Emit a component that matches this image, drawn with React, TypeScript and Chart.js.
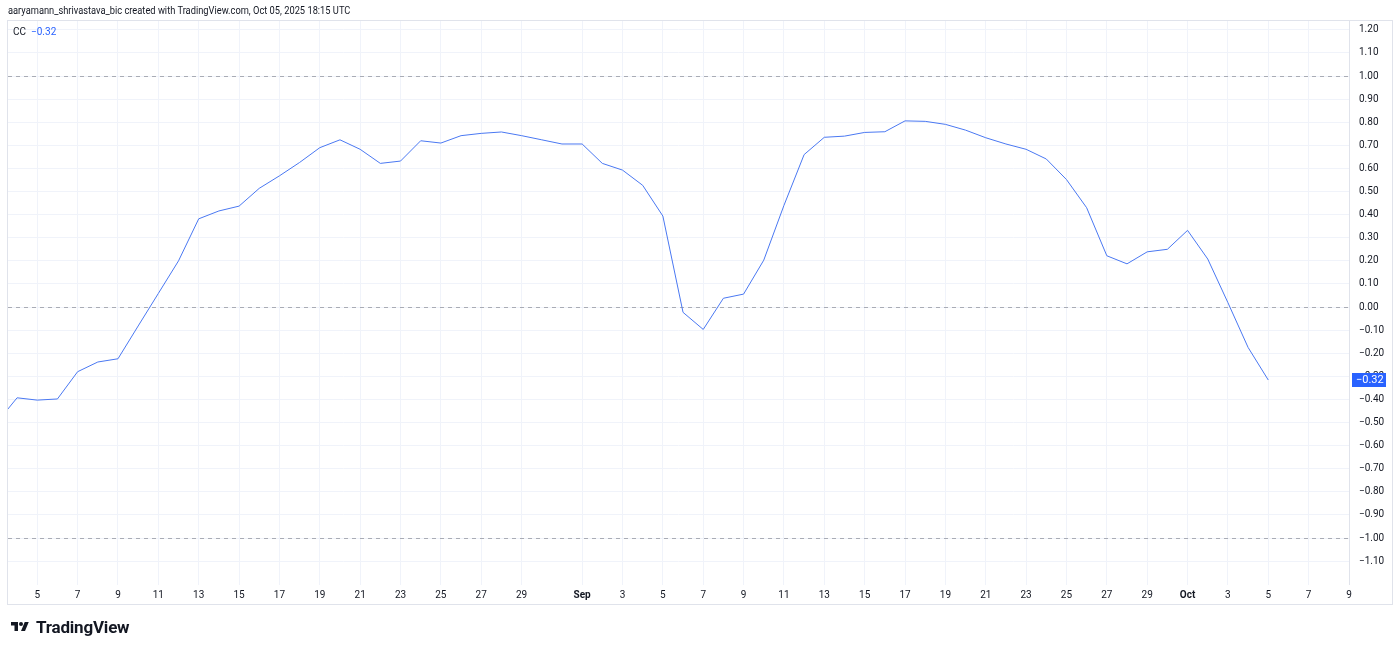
import React, { useEffect, useRef } from "react";
import { Chart, registerables } from "chart.js";

Chart.register(...registerables);

// ---- data ----
const dates: string[] = [
  "2025-08-03", "2025-08-04", "2025-08-05", "2025-08-06", "2025-08-07", "2025-08-08", "2025-08-09", "2025-08-10",
  "2025-08-11", "2025-08-12", "2025-08-13", "2025-08-14", "2025-08-15", "2025-08-16", "2025-08-17", "2025-08-18",
  "2025-08-19", "2025-08-20", "2025-08-21", "2025-08-22", "2025-08-23", "2025-08-24", "2025-08-25", "2025-08-26",
  "2025-08-27", "2025-08-28", "2025-08-29", "2025-08-30", "2025-08-31",
  "2025-09-01", "2025-09-02", "2025-09-03", "2025-09-04", "2025-09-05", "2025-09-06", "2025-09-07", "2025-09-08",
  "2025-09-09", "2025-09-10", "2025-09-11", "2025-09-12", "2025-09-13", "2025-09-14", "2025-09-15", "2025-09-16",
  "2025-09-17", "2025-09-18", "2025-09-19", "2025-09-20", "2025-09-21", "2025-09-22", "2025-09-23", "2025-09-24",
  "2025-09-25", "2025-09-26", "2025-09-27", "2025-09-28", "2025-09-29", "2025-09-30",
  "2025-10-01", "2025-10-02", "2025-10-03", "2025-10-04", "2025-10-05",
];

const ccValues: number[] = [
  -0.5, -0.393, -0.403, -0.398, -0.28, -0.238, -0.224, -0.082,
  0.059, 0.2, 0.382, 0.416, 0.437, 0.514, 0.568, 0.626,
  0.69, 0.724, 0.683, 0.622, 0.632, 0.72, 0.71, 0.742,
  0.752, 0.758, 0.742, 0.724, 0.706,
  0.706, 0.622, 0.593, 0.527, 0.394, -0.023, -0.097, 0.038,
  0.056, 0.203, 0.44, 0.66, 0.735, 0.74, 0.756, 0.759,
  0.806, 0.804, 0.791, 0.766, 0.733, 0.706, 0.683, 0.641,
  0.552, 0.43, 0.222, 0.187, 0.239, 0.25,
  0.332, 0.208, 0.019, -0.175, -0.316,
];

const xTickDates: string[] = [
  "2025-08-05", "2025-08-07", "2025-08-09", "2025-08-11", "2025-08-13", "2025-08-15", "2025-08-17",
  "2025-08-19", "2025-08-21", "2025-08-23", "2025-08-25", "2025-08-27", "2025-08-29",
  "2025-09-01", "2025-09-03", "2025-09-05", "2025-09-07", "2025-09-09", "2025-09-11", "2025-09-13",
  "2025-09-15", "2025-09-17", "2025-09-19", "2025-09-21", "2025-09-23", "2025-09-25", "2025-09-27",
  "2025-09-29", "2025-10-01", "2025-10-03", "2025-10-05", "2025-10-07", "2025-10-09",
];

const yTicks: number[] = [
  -1.1, -1.0, -0.9, -0.8, -0.7, -0.6, -0.5, -0.4, -0.3, -0.2, -0.1, 0,
  0.1, 0.2, 0.3, 0.4, 0.5, 0.6, 0.7, 0.8, 0.9, 1.0, 1.1, 1.2,
];

const levels: number[] = [1, 0, -1];
const monthNames: string[] = ["Jan", "Feb", "Mar", "Apr", "May", "Jun", "Jul", "Aug", "Sep", "Oct", "Nov", "Dec"];
const seriesName = "CC";
const headerText = "aaryamann_shrivastava_bic created with TradingView.com, Oct 05, 2025 18:15 UTC";

const X_MIN = 2.55;
const X_MAX = 69.0;
const Y_MIN = -1.2035;
const Y_MAX = 1.2385;

const BLUE = "#2962ff";
const LINE_BLUE = "#4a78f2";
const FONT = "Roboto, 'Noto Sans', sans-serif";

const ORIGIN = Date.UTC(2025, 7, 1);
const dayIndex = (s: string) => {
  const [y, m, d] = s.split("-").map(Number);
  return (Date.UTC(y, m - 1, d) - ORIGIN) / 86400000;
};
const dateOf = (t: number) => new Date(ORIGIN + Math.round(t) * 86400000);
const fmt = (v: number) => (v < 0 ? "\u2212" : "") + Math.abs(v).toFixed(2);

export default function App() {
  const ref = useRef<HTMLCanvasElement | null>(null);

  useEffect(() => {
    if (!ref.current) return;
    const points = dates.map((d, i) => ({ x: dayIndex(d), y: ccValues[i] }));
    const xTickVals = xTickDates.map(dayIndex);
    const lastVal = ccValues[ccValues.length - 1];

    const decor = {
      id: "decor",
      beforeDatasetsDraw(chart: any) {
        const { ctx, chartArea, scales } = chart;
        ctx.save();
        ctx.strokeStyle = "#a9acb5";
        ctx.lineWidth = 1;
        ctx.setLineDash([4, 4]);
        levels.forEach((lv) => {
          const y = Math.round(scales.y.getPixelForValue(lv)) + 0.5;
          ctx.beginPath();
          ctx.moveTo(chartArea.left, y);
          ctx.lineTo(chartArea.right, y);
          ctx.stroke();
        });
        ctx.restore();
      },
      afterDraw(chart: any) {
        const { ctx, chartArea, scales } = chart;
        ctx.save();
        // frame
        ctx.strokeStyle = "#e0e3eb";
        ctx.lineWidth = 1;
        const right = scales.y.right;
        const bottom = scales.x.bottom;
        ctx.strokeRect(chartArea.left - 0.5, chartArea.top - 0.5, right - chartArea.left + 1, bottom - chartArea.top + 1);
        ctx.beginPath();
        ctx.moveTo(Math.round(chartArea.right) + 0.5, chartArea.top);
        ctx.lineTo(Math.round(chartArea.right) + 0.5, chartArea.bottom);
        ctx.stroke();
        // last value tag
        const y = scales.y.getPixelForValue(lastVal);
        const x0 = chartArea.right + 3;
        ctx.fillStyle = BLUE;
        ctx.fillRect(x0, Math.round(y) - 7, 34, 14);
        ctx.fillStyle = "#ffffff";
        ctx.font = `11px ${FONT}`;
        ctx.textBaseline = "middle";
        ctx.textAlign = "left";
        ctx.fillText(fmt(lastVal), x0 + 4, Math.round(y) + 0.5);
        ctx.restore();
      },
    };

    const chart = new Chart(ref.current, {
      type: "line",
      data: {
        datasets: [
          {
            label: seriesName,
            data: points,
            borderColor: LINE_BLUE,
            borderWidth: 1,
            pointRadius: 0,
            tension: 0,
            fill: false,
          },
        ],
      },
      options: {
        animation: false,
        responsive: false,
        devicePixelRatio: 1,
        parsing: false as any,
        layout: { padding: { left: 8, right: 8, top: 21, bottom: 47 } },
        plugins: { legend: { display: false }, tooltip: { enabled: false } },
        scales: {
          x: {
            type: "linear",
            min: X_MIN,
            max: X_MAX,
            afterFit: (s: any) => {
              s.height = 19;
            },
            afterBuildTicks: (s: any) => {
              s.ticks = xTickVals.map((v) => ({ value: v }));
            },
            grid: { color: "#f0f3fa", drawTicks: false },
            border: { display: false },
            ticks: {
              autoSkip: false,
              maxRotation: 0,
              padding: 4,
              color: "#131722",
              font: (c: any) => {
                const d = dateOf(c.tick ? c.tick.value : 0);
                return { family: FONT, size: 10, weight: d.getUTCDate() === 1 ? "bold" : "normal" } as any;
              },
              callback: (v: any) => {
                const d = dateOf(Number(v));
                return d.getUTCDate() === 1 ? monthNames[d.getUTCMonth()] : String(d.getUTCDate());
              },
            },
          },
          y: {
            type: "linear",
            position: "right",
            min: Y_MIN,
            max: Y_MAX,
            afterFit: (s: any) => {
              s.width = 43;
            },
            afterBuildTicks: (s: any) => {
              s.ticks = yTicks.map((v) => ({ value: v }));
            },
            grid: { color: "#f0f3fa", drawTicks: false },
            border: { display: false },
            ticks: {
              padding: 10,
              color: "#131722",
              font: { family: FONT, size: 10 },
              callback: (v: any) => fmt(Number(v)),
            },
          },
        },
      },
      plugins: [decor],
    });

    return () => chart.destroy();
  }, []);

  return (
    <div style={{ position: "fixed", left: 0, top: 0, width: 1400, height: 651, background: "#ffffff", fontFamily: FONT }}>
      <canvas ref={ref} width={1400} height={651} style={{ position: "absolute", left: 0, top: 0 }} />
      <div
        style={{
          position: "absolute",
          left: 8,
          top: 5,
          fontSize: 10,
          color: "#131722",
          whiteSpace: "nowrap",
          transform: "scaleX(0.93)",
          transformOrigin: "left center",
        }}
      >
        {headerText}
      </div>
      <div style={{ position: "absolute", left: 13, top: 26, fontSize: 10, color: "#131722", whiteSpace: "nowrap" }}>
        {seriesName}
        <span style={{ color: BLUE, marginLeft: 5 }}>{fmt(ccValues[ccValues.length - 1])}</span>
      </div>
      <div style={{ position: "absolute", left: 8, top: 617, display: "flex", alignItems: "center", whiteSpace: "nowrap" }}>
        <svg width="24" height="14" viewBox="0 0 36 28" style={{ marginRight: 4 }}>
          <path d="M14 22H7V11H0V4h14v18z" fill="#131722" />
          <circle cx="20" cy="8" r="4" fill="#131722" />
          <path d="M28 22h-8l7.5-18h8L28 22z" fill="#131722" />
        </svg>
        <span style={{ fontSize: 17, fontWeight: 700, color: "#131722", letterSpacing: -0.2 }}>TradingView</span>
      </div>
    </div>
  );
}
